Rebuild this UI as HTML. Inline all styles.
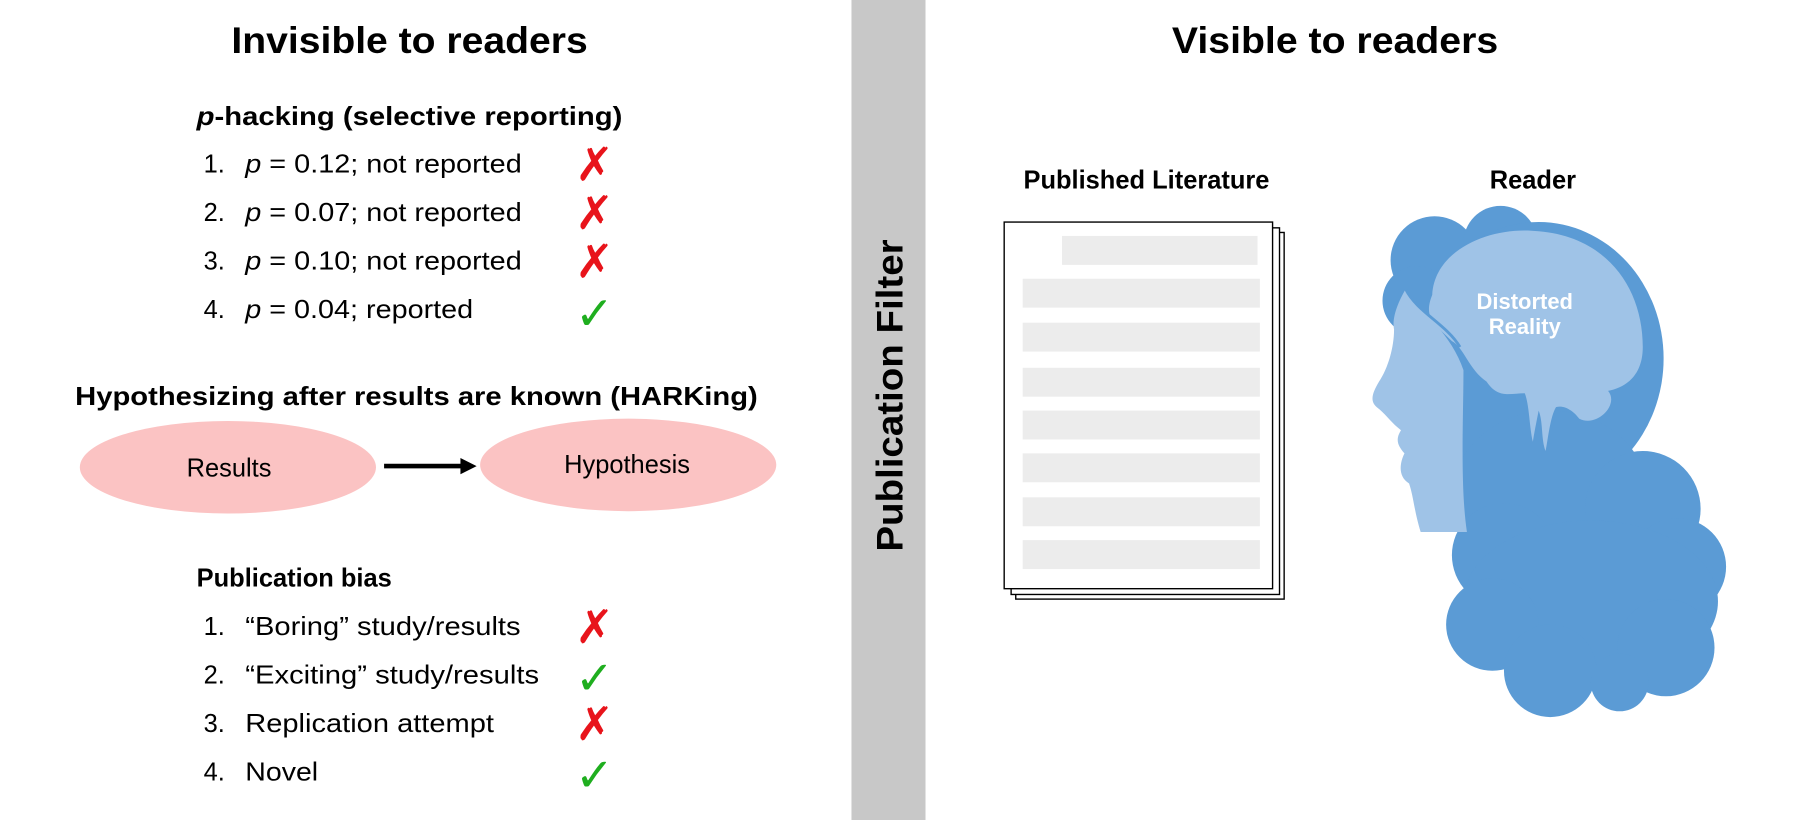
<!DOCTYPE html>
<html><head><meta charset="utf-8"><style>
html,body{margin:0;padding:0;background:#fff;}
svg{display:block;}
text{font-family:"Liberation Sans",Arial,sans-serif;}
</style></head><body>
<svg width="1814" height="820" viewBox="0 0 1568 709" preserveAspectRatio="none" xmlns="http://www.w3.org/2000/svg">
<rect width="1568" height="709" fill="#fff"/>
<rect x="736" y="0" width="64" height="709" fill="#c8c8c8"/>
<text transform="translate(780,342) rotate(-90)" text-anchor="middle" font-size="32" font-weight="bold" textLength="270" lengthAdjust="spacingAndGlyphs">Publication Filter</text>

<text x="354" y="46" text-anchor="middle" font-size="32" font-weight="bold" textLength="308" lengthAdjust="spacingAndGlyphs">Invisible to readers</text>
<text x="1154" y="46" text-anchor="middle" font-size="32" font-weight="bold" textLength="282" lengthAdjust="spacingAndGlyphs">Visible to readers</text>

<text x="170" y="108" font-size="22" font-weight="bold" textLength="368" lengthAdjust="spacingAndGlyphs"><tspan font-style="italic">p</tspan>-hacking (selective reporting)</text>
<g font-size="22">
<text x="176" y="149">1.</text><text x="212" y="149" textLength="239" lengthAdjust="spacingAndGlyphs"><tspan font-style="italic">p</tspan> = 0.12; not reported</text>
<text x="176" y="191">2.</text><text x="212" y="191" textLength="239" lengthAdjust="spacingAndGlyphs"><tspan font-style="italic">p</tspan> = 0.07; not reported</text>
<text x="176" y="233">3.</text><text x="212" y="233" textLength="239" lengthAdjust="spacingAndGlyphs"><tspan font-style="italic">p</tspan> = 0.10; not reported</text>
<text x="176" y="275">4.</text><text x="212" y="275" textLength="197" lengthAdjust="spacingAndGlyphs"><tspan font-style="italic">p</tspan> = 0.04; reported</text>
</g>
<g font-size="40">
<text x="497" y="156" fill="#e8141b" font-family="DejaVu Sans">✗</text>
<text x="497" y="198" fill="#e8141b" font-family="DejaVu Sans">✗</text>
<text x="497" y="240" fill="#e8141b" font-family="DejaVu Sans">✗</text>
<text x="497" y="285" fill="#1fae1f" font-family="DejaVu Sans">✓</text>
</g>

<text x="65" y="350" font-size="22" font-weight="bold" textLength="590" lengthAdjust="spacingAndGlyphs">Hypothesizing after results are known (HARKing)</text>
<ellipse cx="197" cy="404" rx="128" ry="40" fill="#fbc3c3"/>
<ellipse cx="543" cy="402" rx="128" ry="40" fill="#fbc3c3"/>
<text x="198" y="412" text-anchor="middle" font-size="22">Results</text>
<text x="542" y="409" text-anchor="middle" font-size="22">Hypothesis</text>
<line x1="332" y1="403" x2="400" y2="403" stroke="#000" stroke-width="4"/>
<polygon points="398,396 412,403 398,410" fill="#000"/>

<text x="170" y="507" font-size="22" font-weight="bold">Publication bias</text>
<g font-size="22">
<text x="176" y="549">1.</text><text x="212" y="549" textLength="238" lengthAdjust="spacingAndGlyphs">“Boring” study/results</text>
<text x="176" y="591">2.</text><text x="212" y="591" textLength="254" lengthAdjust="spacingAndGlyphs">“Exciting” study/results</text>
<text x="176" y="633">3.</text><text x="212" y="633" textLength="215" lengthAdjust="spacingAndGlyphs">Replication attempt</text>
<text x="176" y="675">4.</text><text x="212" y="675" textLength="63" lengthAdjust="spacingAndGlyphs">Novel</text>
</g>
<g font-size="40">
<text x="497" y="556" fill="#e8141b" font-family="DejaVu Sans">✗</text>
<text x="497" y="600" fill="#1fae1f" font-family="DejaVu Sans">✓</text>
<text x="497" y="640" fill="#e8141b" font-family="DejaVu Sans">✗</text>
<text x="497" y="684" fill="#1fae1f" font-family="DejaVu Sans">✓</text>
</g>

<text x="991" y="163" text-anchor="middle" font-size="22" font-weight="bold">Published Literature</text>
<rect x="878" y="201" width="232" height="317" fill="#fff" stroke="#000" stroke-width="1.2"/>
<rect x="874" y="197" width="232" height="317" fill="#fff" stroke="#000" stroke-width="1.2"/>
<rect x="868" y="192" width="232" height="317" fill="#fff" stroke="#000" stroke-width="1.2"/>
<g fill="#ececec">
<rect x="918" y="204" width="169" height="25"/>
<rect x="884" y="241" width="205" height="25"/>
<rect x="884" y="279" width="205" height="25"/>
<rect x="884" y="318" width="205" height="25"/>
<rect x="884" y="355" width="205" height="25"/>
<rect x="884" y="392" width="205" height="25"/>
<rect x="884" y="430" width="205" height="25"/>
<rect x="884" y="467" width="205" height="25"/>
</g>

<text x="1325" y="163" text-anchor="middle" font-size="22" font-weight="bold">Reader</text>
<g fill="#5b9bd5">
<circle cx="1240" cy="225" r="38"/>
<circle cx="1297" cy="210" r="32"/>
<circle cx="1345" cy="225" r="30"/>
<ellipse cx="1330" cy="310" rx="108" ry="118"/>
<circle cx="1225" cy="260" r="30"/>
<ellipse cx="1340" cy="430" rx="85" ry="75"/>
<circle cx="1420" cy="440" r="50"/>
<circle cx="1300" cy="480" r="45"/>
<circle cx="1450" cy="490" r="42"/>
<ellipse cx="1375" cy="520" rx="110" ry="70"/>
<circle cx="1290" cy="540" r="40"/>
<circle cx="1440" cy="560" r="42"/>
<circle cx="1340" cy="580" r="40"/>
<circle cx="1400" cy="590" r="25"/>
</g>
<path fill="#9fc3e7" d="M1215,250 C1230,270 1255,290 1265,320 C1265,360 1262,420 1268,460 L1228,460 C1222,440 1222,430 1218,418 C1208,412 1210,400 1214,392 C1208,385 1206,380 1211,372 C1202,365 1198,358 1190,352 C1184,347 1186,340 1192,330 C1200,318 1205,300 1205,285 C1203,275 1208,262 1215,250 Z"/>
<path fill="#9fc3e7" d="M1238,255 C1240,215 1290,195 1330,200 C1390,205 1420,250 1420,300 C1420,325 1405,335 1390,338 C1400,350 1380,370 1365,362 C1360,355 1352,350 1345,352 C1340,360 1338,380 1336,390 C1332,380 1334,365 1330,355 C1328,365 1326,375 1325,382 C1322,370 1322,350 1318,340 C1305,340 1295,345 1285,330 C1270,320 1265,300 1255,295 C1240,280 1230,275 1238,255 Z"/>
<path fill="none" stroke="#5b9bd5" stroke-width="2.5" d="M1215,250 C1225,270 1250,280 1262,300"/>
<text x="1318" y="267" text-anchor="middle" font-size="19" font-weight="bold" fill="#fff">Distorted</text>
<text x="1318" y="289" text-anchor="middle" font-size="19" font-weight="bold" fill="#fff">Reality</text>
</svg>
</body></html>
